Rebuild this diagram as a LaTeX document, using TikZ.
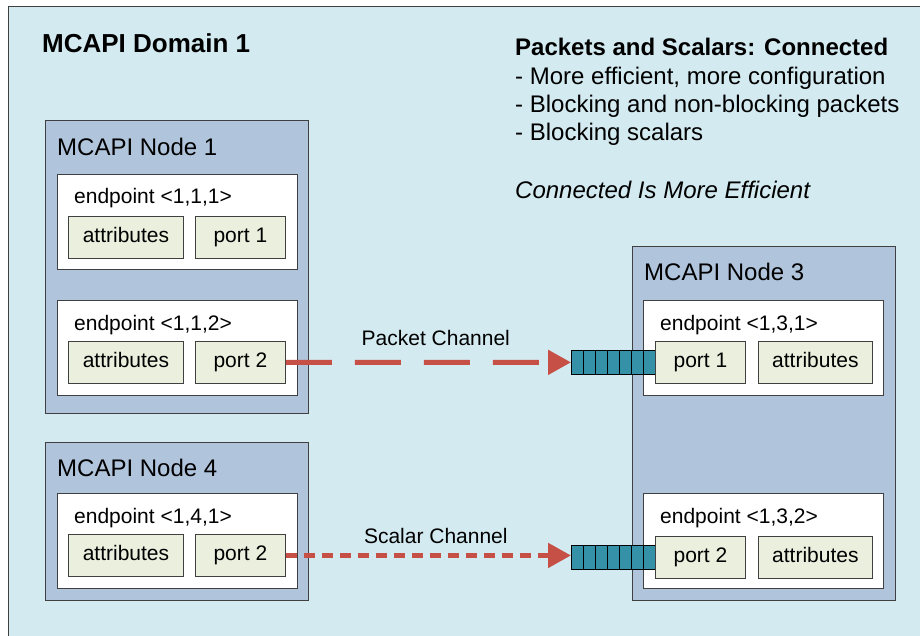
\documentclass[tikz,border=0pt]{standalone}
\usepackage{fontspec}
\setmainfont{Liberation Sans}
\usetikzlibrary{arrows.meta, positioning}

\definecolor{domainbg}{RGB}{210,234,240}
\definecolor{nodebg}{RGB}{176,196,220}
\definecolor{attrbg}{RGB}{235,239,222}
\definecolor{queuebg}{RGB}{53,145,168}
\definecolor{chanred}{RGB}{199,80,70}
\definecolor{boxline}{RGB}{64,64,64}

\tikzset{
	box/.style={rectangle, draw=boxline, line width=0.9pt, inner sep=0pt, anchor=north west},
	nodebox/.style={box, fill=nodebg, minimum width=263pt},
	epbox/.style={box, fill=white, minimum width=240pt, minimum height=95pt},
	portbox/.style={box, fill=attrbg, minimum height=42pt, text height=16pt, text depth=5pt, font=\fontsize{21}{24}\selectfont},
	txt/.style={anchor=base west, inner sep=0pt, font=\fontsize{21}{24}\selectfont},
	titletxt/.style={anchor=base west, inner sep=0pt, font=\fontsize{24}{28}\selectfont},
	queue/.style={box, fill=queuebg, draw=black, line width=0.7pt, minimum width=84pt, minimum height=24pt},
	chan/.style={draw=chanred, line width=5pt, -{Triangle[length=23pt,width=24pt]}}
}

\begin{document}
\begin{tikzpicture}[x=1pt, y=-1pt]
		\clip (0,0) rectangle (920,636);
		\fill[white] (0,0) rectangle (920,636);
		\node[box, fill=domainbg, minimum width=940pt, minimum height=660pt] (dom) at (8,6) {};
		\node[anchor=base west, inner sep=0pt, font=\fontsize{26}{30}\selectfont\bfseries] (domtitle) at (42,53) {MCAPI Domain 1};
		
		% notes on the right
		\node[titletxt, font=\fontsize{24}{28}\selectfont\bfseries] (info) at (515,56) {Packets and Scalars: Connected};
		\node[titletxt] (info1) at (515,85) {- More efficient, more configuration};
		\node[titletxt] (info2) at (515,113) {- Blocking and non-blocking packets};
		\node[titletxt] (info3) at (515,141) {- Blocking scalars};
		\node[titletxt, font=\fontsize{24}{28}\selectfont\itshape] (moral) at (515,199) {Connected Is More Efficient};
		
		% MCAPI node 1
		\node[nodebox, minimum height=293pt] (n1) at (45,120) {};
		\node[titletxt] (n1t) at (57,156) {MCAPI Node 1};
		\node[epbox] (e111) at (57,174) {};
		\node[txt] (e111t) at (74,204) {endpoint <1,1,1>};
		\node[portbox, minimum width=115pt] (a111) at (68,216) {attributes};
		\node[portbox, minimum width=90pt, anchor=west, right=11pt of a111] (p111) {port 1};
		\node[epbox] (e112) at (57,300) {};
		\node[txt] (e112t) at (74,330) {endpoint <1,1,2>};
		\node[portbox, minimum width=115pt] (a112) at (68,341) {attributes};
		\node[portbox, minimum width=90pt, anchor=west, right=11pt of a112] (p112) {port 2};
		
		% MCAPI node 4
		\node[nodebox, minimum height=158pt] (n4) at (45,442) {};
		\node[titletxt] (n4t) at (57,476) {MCAPI Node 4};
		\node[epbox] (e141) at (57,493) {};
		\node[txt] (e141t) at (74,523) {endpoint <1,4,1>};
		\node[portbox, minimum width=115pt] (a141) at (68,534) {attributes};
		\node[portbox, minimum width=90pt, anchor=west, right=11pt of a141] (p141) {port 2};
		
		% MCAPI node 3
		\node[nodebox, minimum height=354pt] (n3) at (632,246) {};
		\node[titletxt] (n3t) at (644,280) {MCAPI Node 3};
		\node[epbox] (e131) at (643,300) {};
		\node[txt] (e131t) at (660,330) {endpoint <1,3,1>};
		\node[epbox] (e132) at (643,493) {};
		\node[txt] (e132t) at (660,523) {endpoint <1,3,2>};
		
		% receive queues
		\node[queue] (q1) at (571,350) {};
		\node[queue] (q2) at (571,545) {};
		\foreach \q in {q1,q2}
			\foreach \i in {1,...,6}
				\draw[line width=0.7pt] ([xshift=\i*12pt]\q.south west) -- ([xshift=\i*12pt]\q.north west);
		
		\node[portbox, minimum width=90pt] (p131) at (655,341) {port 1};
		\node[portbox, minimum width=114pt, anchor=west, right=12pt of p131] (a131) {attributes};
		\node[portbox, minimum width=90pt] (p132) at (655,536) {port 2};
		\node[portbox, minimum width=114pt, anchor=west, right=12pt of p132] (a132) {attributes};
		
		% channels
		\draw[chan, dash pattern=on 46pt off 23pt] (p112.east) -- (q1.west) node[pos=0.526, txt, anchor=base, yshift=17pt] (pc) {Packet Channel};
		\draw[chan, dash pattern=on 11pt off 7pt] (p141.east) -- (p141.east -| q2.west) node[pos=0.526, txt, anchor=base, yshift=12pt] (sc) {Scalar Channel};

	\end{tikzpicture}
\end{document}
